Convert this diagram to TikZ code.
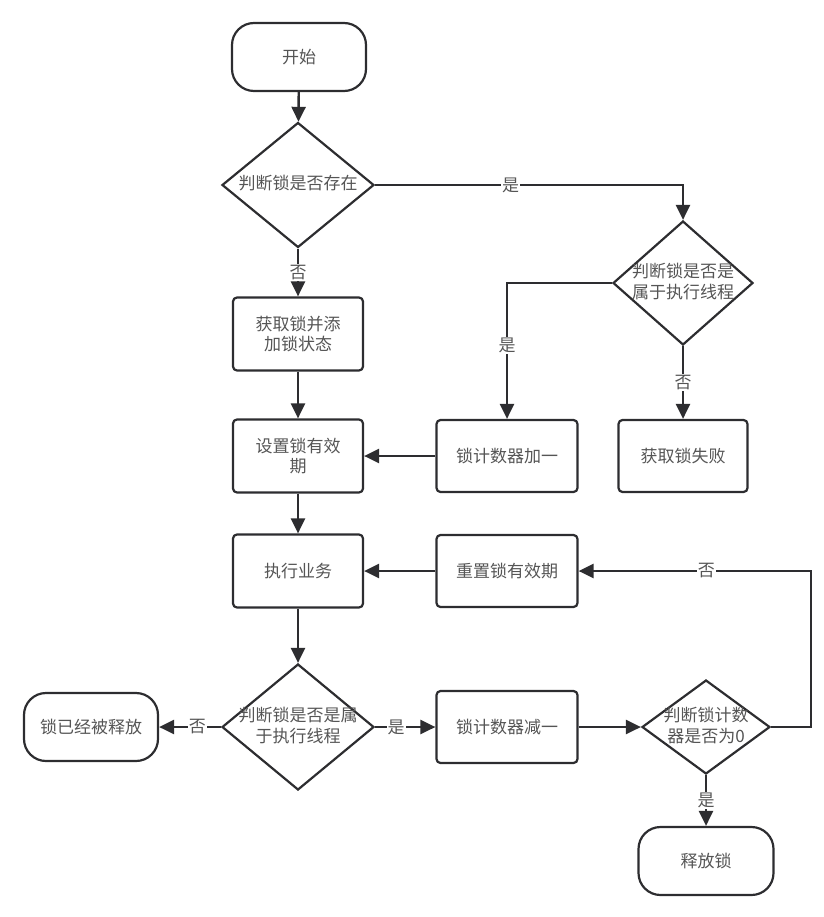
\documentclass[tikz,border=0pt]{standalone}
\usepackage{fontspec}
\newfontfamily\cjk{Noto Sans CJK SC}
\usetikzlibrary{shapes.geometric,arrows.meta}
\definecolor{linec}{RGB}{45,45,48}
\definecolor{textc}{RGB}{85,85,85}
\newcommand{\dtxt}[1]{\smash{\makebox[0pt]{\raisebox{-0.3em}{\begin{tabular}{@{}c@{}}#1\end{tabular}}}}}

\begin{document}
\begin{tikzpicture}[x=1pt,y=-1pt,
	every node/.style={font=\cjk\fontsize{17}{20}\selectfont,text=textc},
	term/.style={draw=linec,line width=2.2pt,rounded corners=22pt,minimum width=134pt,minimum height=68pt},
	procbox/.style={draw=linec,line width=2.2pt,rounded corners=4pt,minimum width=130pt,minimum height=73pt,align=center},
	decision/.style={draw=linec,line width=2.2pt,diamond,inner sep=0pt},
	yn/.style={fill=white,inner sep=1pt},
	flow/.style={draw=linec,line width=2.4pt,-{Triangle[length=15pt,width=14pt]}}]
	\useasboundingbox (0,0) rectangle (823,917);
	% left column
	\node[term] (start) at (299,57) {开始};
	\node[decision,minimum width=152pt,minimum height=125pt] (d1) at (298,185) {\dtxt{判断锁是否存在}};
	\node[procbox] (acq) at (298,334) {获取锁并添\\加锁状态};
	\node[procbox] (set) at (298,456) {设置锁有效\\期};
	\node[procbox] (exec) at (298,571) {执行业务};
	\node[decision,minimum width=152pt,minimum height=126pt] (d3) at (298,727) {\dtxt{判断锁是否是属\\于执行线程}};
	\node[term] (released) at (91,727) {锁已经被释放};
	% right part
	\node[decision,minimum width=140pt,minimum height=124pt] (d2) at (683,283) {\dtxt{判断锁是否是\\属于执行线程}};
	\node[procbox,minimum width=141pt,minimum height=72pt] (inc) at (507,456) {锁计数器加一};
	\node[procbox,minimum width=129pt,minimum height=72pt] (fail) at (683,456) {获取锁失败};
	\node[procbox,minimum width=141pt,minimum height=72pt] (reset) at (507,571) {重置锁有效期};
	\node[procbox,minimum width=141pt,minimum height=72pt] (dec) at (507,727) {锁计数器减一};
	\node[decision,minimum width=128pt,minimum height=94pt] (d4) at (706,727) {\dtxt{判断锁计数\\器是否为0}};
	\node[term,minimum width=135pt] (release) at (706,861) {释放锁};
	\coordinate (loop) at (811,571);
	% connectors
	\draw[flow] (start) -- (d1);
	\draw[flow] (d1) -| node[yn,pos=0.22] {是} (d2);
	\draw[flow] (d1) -- node[yn] {否} (acq);
	\draw[flow] (d2) -| node[yn,pos=0.73] {是} (inc);
	\draw[flow] (d2) -- node[yn] {否} (fail);
	\draw[flow] (acq) -- (set);
	\draw[flow] (inc) -- (set);
	\draw[flow] (set) -- (exec);
	\draw[flow] (reset) -- (exec);
	\draw[flow] (exec) -- (d3);
	\draw[flow] (d3) -- node[yn,pos=0.38] {否} (released);
	\draw[flow] (d3) -- node[yn,pos=0.35] {是} (dec);
	\draw[flow] (dec) -- (d4);
	\draw[flow] (d4) -- node[yn] {是} (release);
	\draw[flow] (d4.east) -| (loop) -- node[yn,pos=0.45] {否} (reset);
\end{tikzpicture}
\end{document}
